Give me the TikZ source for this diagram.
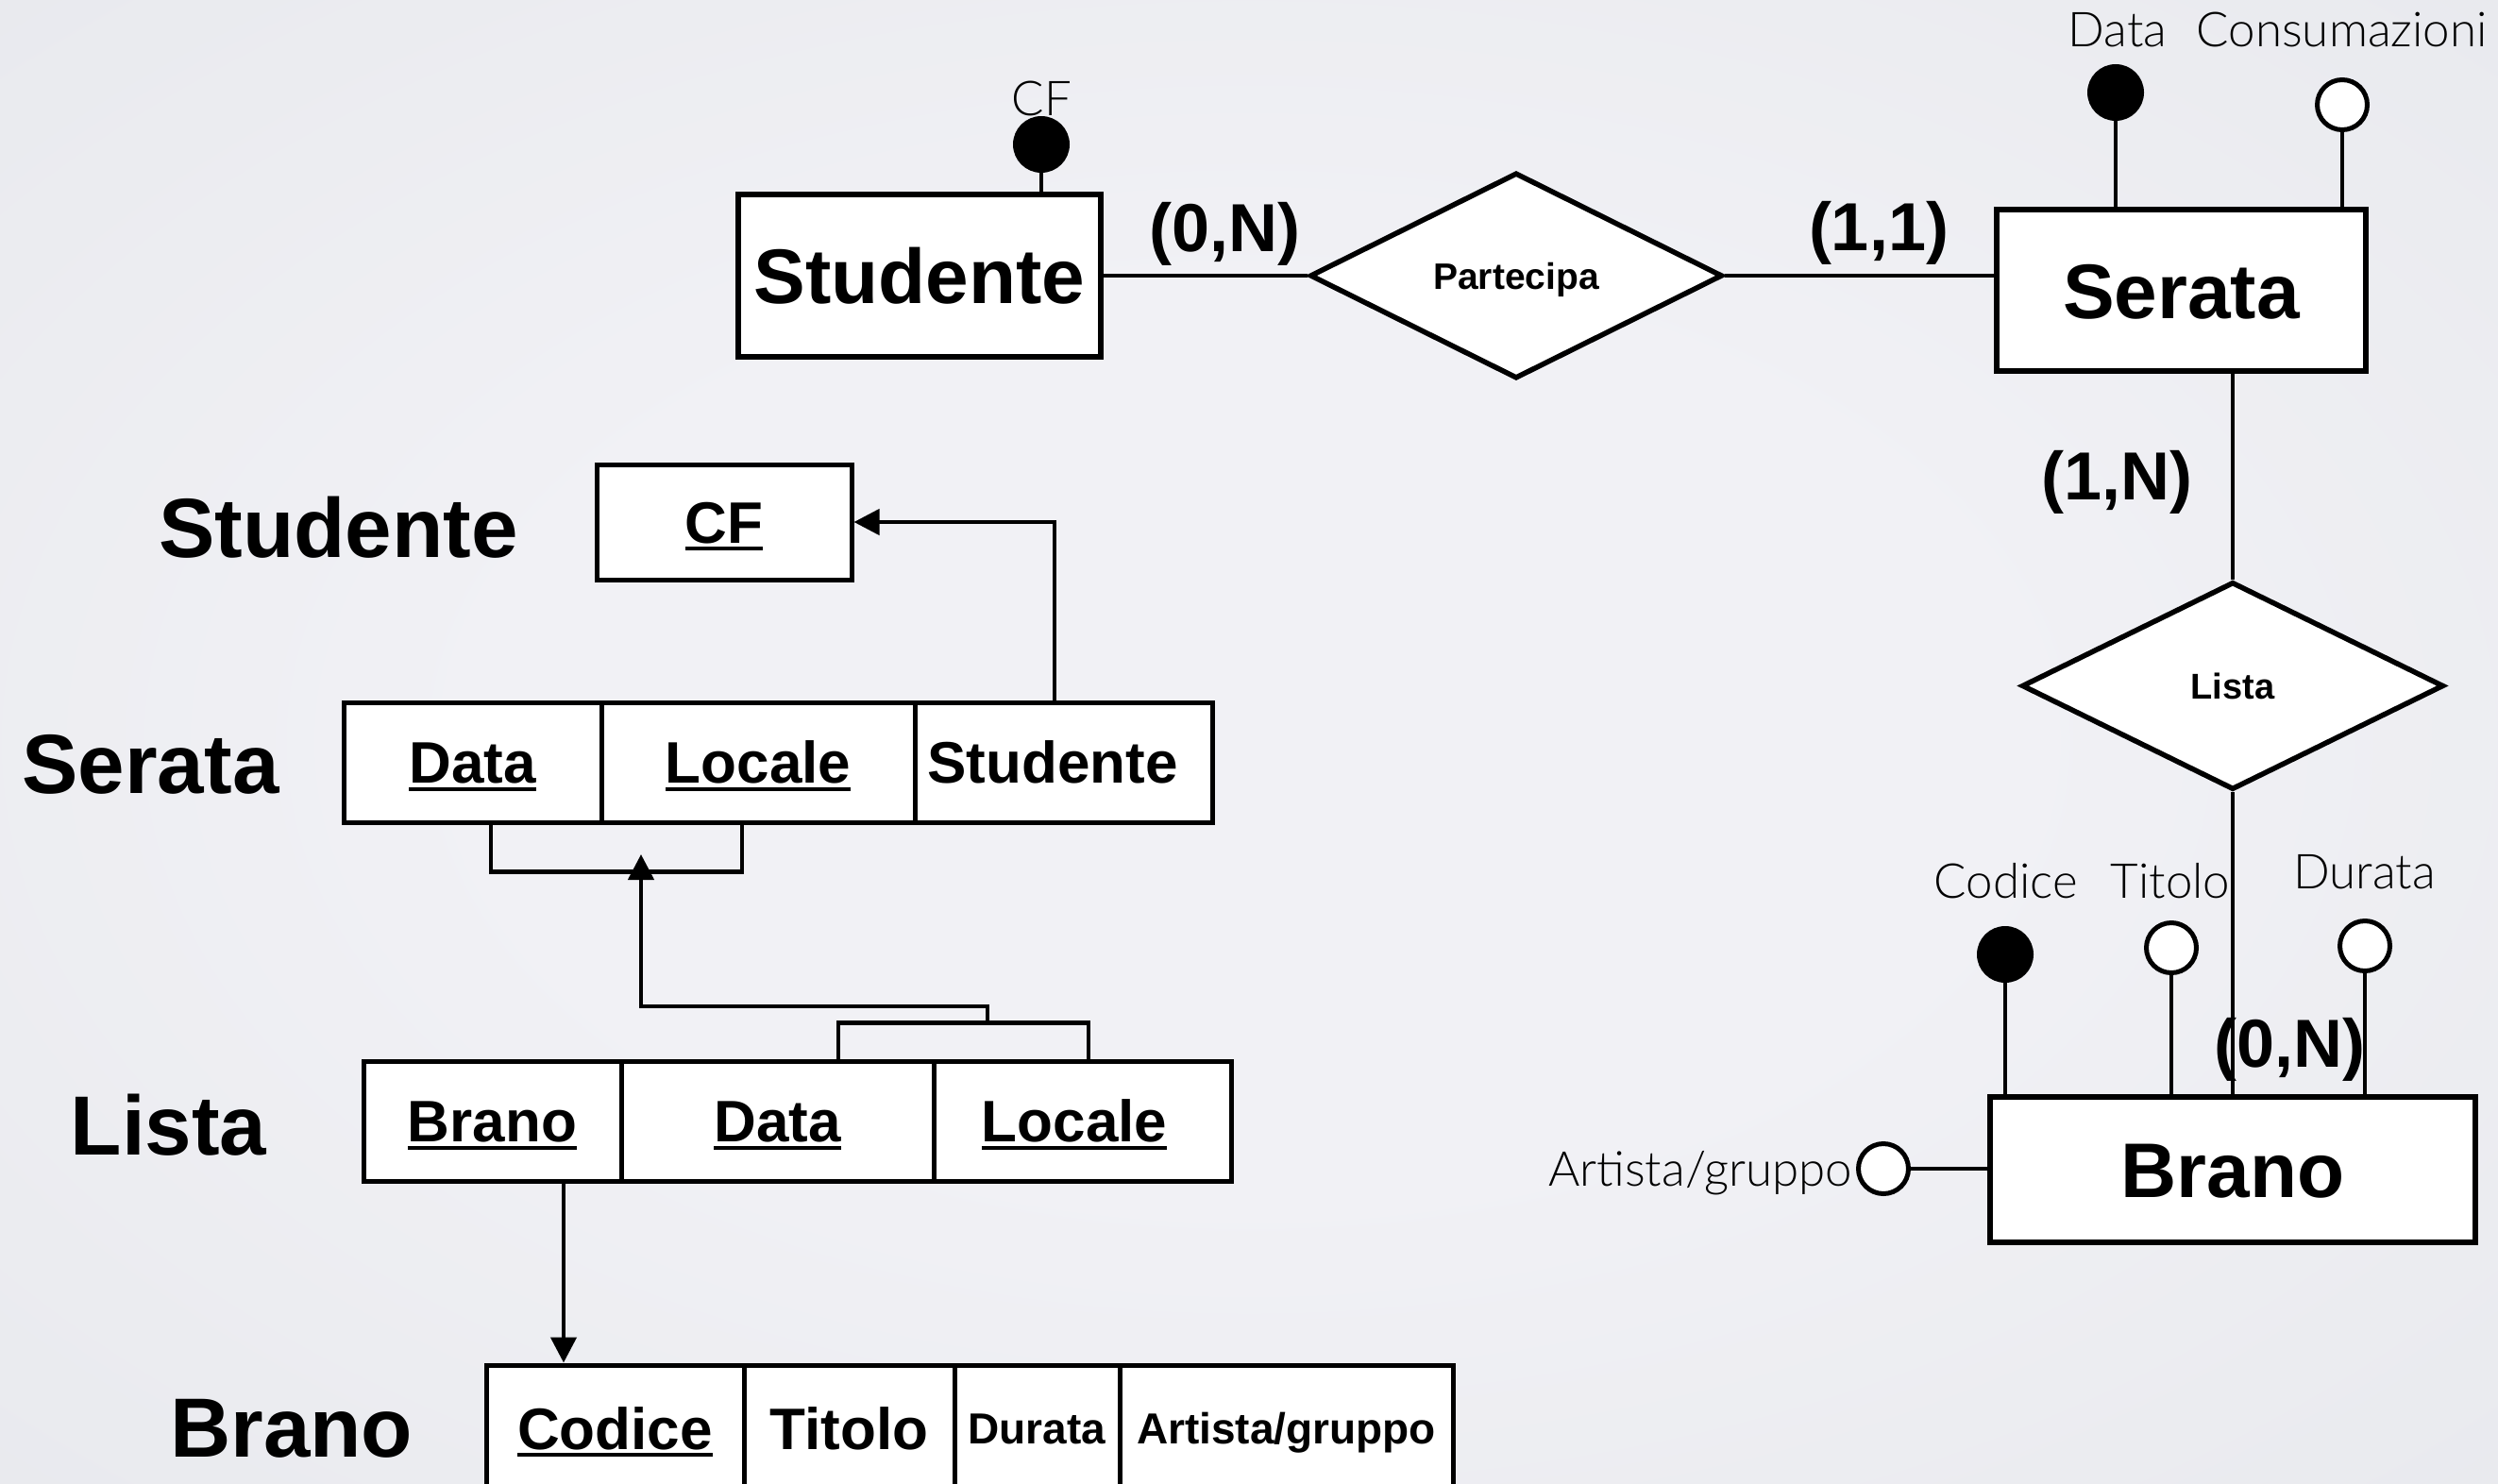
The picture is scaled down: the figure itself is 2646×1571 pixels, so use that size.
\documentclass[tikz,border=0pt]{standalone}
\usepackage{fontspec}
\setmainfont{Liberation Sans}
\newfontfamily\thinfont{Lato Light}
\usetikzlibrary{shapes.geometric,arrows.meta}

% font size helper and a thick underline for key attributes
\newcommand\fsz[1]{\fontsize{#1}{#1}\selectfont}
\newcommand\ulk[1]{\setbox0=\hbox{#1}\rlap{\rule[-0.13em]{\wd0}{0.065em}}\box0}

\definecolor{bgin}{RGB}{241,241,245}
\definecolor{bgout}{RGB}{218,221,226}
\pgfdeclareradialshading{bgshade}{\pgfpoint{0bp}{0bp}}{color(0bp)=(bgin); color(15bp)=(bgin); color(72bp)=(bgout)}

\tikzset{
  ln/.style={line width=4.5pt, line cap=butt},
  arr/.style={ln, -{Triangle[length=27pt,width=27pt]}},
  ent/.style={draw, rectangle, line width=5.5pt, fill=white, inner sep=0pt,
    text height=59pt, text depth=0pt, font=\fsz{82}\bfseries},
  rel/.style={draw, diamond, aspect=2, line width=5.5pt, fill=white, inner sep=0pt,
    text height=28pt, text depth=0pt, font=\fsz{39}\bfseries},
  idattr/.style={circle, draw, fill=black, line width=3pt, minimum size=57pt, inner sep=0pt},
  optattr/.style={circle, draw, fill=white, line width=5pt, minimum size=53pt, inner sep=0pt},
  lbl/.style={inner sep=0pt, anchor=base, font=\fsz{51}\thinfont},
  card/.style={inner sep=0pt, anchor=base, font=\fsz{72}\bfseries},
  tname/.style={inner sep=0pt, anchor=base, font=\fsz{89}\bfseries},
  cell/.style={draw, rectangle, line width=5pt, fill=white, inner sep=0pt,
    minimum height=127pt, text height=44.6pt, text depth=0pt, font=\fsz{62}\bfseries},
  smallcell/.style={cell, text height=33pt, font=\fsz{46}\bfseries},
}

\begin{document}
\begin{tikzpicture}[x=1pt, y=-1pt]
\useasboundingbox (0,0) rectangle (2646,1571);
\clip (0,0) rectangle (2646,1571);
\shade[shading=bgshade] (0,0) rectangle (2646,1571);

% ---------------- E-R schema ----------------
\node[ent, minimum width=384pt, minimum height=172pt] (st) at (974,292) {Studente};
\node[rel, minimum width=437pt, minimum height=218pt] (part) at (1606,292) {Partecipa};
\node[ent, minimum width=391pt, minimum height=171pt] (se) at (2310.5,307.5) {Serata};
\node[rel, minimum width=447pt, minimum height=220pt, font=\fsz{38}\bfseries] (lista) at (2365,726.5) {Lista};
\node[ent, minimum width=514pt, minimum height=154pt] (br) at (2365,1239) {Brano};

\draw[ln] (st.east) -- (part.west);
\draw[ln] (part.east) -- (part.east -| se.west);
\draw[ln] (se.south -| lista.north) -- (lista.north);
\draw[ln] (lista.south) -- (br.north);

% attributes of Studente
\node[idattr] (cfc) at (1103,153) {};
\draw[ln] (cfc.south) -- (cfc.south |- st.north);
\node[lbl] (cfl) at (1103.5,122) {CF};

% attributes of Serata
\node[idattr] (sdat) at (2241,98) {};
\node[optattr] (scon) at (2481,111) {};
\draw[ln] (sdat.south) -- (sdat.south |- se.north);
\draw[ln] (scon.south) -- (scon.south |- se.north);
\node[lbl] (sdatl) at (2243,50) {Data};
\node[lbl] (sconl) at (2480.6,50) {Consumazioni};

% attributes of Brano
\node[idattr] (bcod) at (2124,1011) {};
\node[optattr] (btit) at (2300,1004) {};
\node[optattr] (bdur) at (2505,1002) {};
\node[optattr] (bart) at (1995,1238) {};
\draw[ln] (bcod.south) -- (bcod.south |- br.north);
\draw[ln] (btit.south) -- (btit.south |- br.north);
\draw[ln] (bdur.south) -- (bdur.south |- br.north);
\draw[ln] (bart.east) -- (bart.east -| br.west);
\node[lbl] (bcodl) at (2124.6,951) {Codice};
\node[lbl] (btitl) at (2299,951) {Titolo};
\node[lbl] (bdurl) at (2504.6,941) {Durata};
\node[lbl, anchor=base east] (bartl) at (1962,1256) {Artista/gruppo};

% cardinalities
\node[card] (c1) at (1297.5,266) {(0,N)};
\node[card] (c2) at (1990,265) {(1,1)};
\node[card] (c3) at (2242,529) {(1,N)};
\node[card] (c4) at (2425,1130) {(0,N)};

% ---------------- relational schema ----------------
\node[tname] (nst) at (358.6,590) {Studente};
\node[tname] (nse) at (159.5,840) {Serata};
\node[tname] (nli) at (178.5,1223) {Lista};
\node[tname] (nbr) at (308.7,1543) {Brano};

% Studente
\node[cell, minimum width=270pt, minimum height=122pt] (rcf) at (767,553) {\ulk{CF}};

% Serata
\node[cell, minimum width=273pt] (rsd) at (500.5,807.5) {\ulk{Data}};
\node[cell, minimum width=332pt] (rsl) at (803,807.5) {\ulk{Locale}};
\node[cell, minimum width=315pt] (rss) at (1126.5,807.5) {\kern-23pt Studente};

% Lista
\node[cell, minimum width=273pt] (rlb) at (521.5,1187.5) {\ulk{Brano}};
\node[cell, minimum width=331pt] (rld) at (823.5,1187.5) {\ulk{Data}};
\node[cell, minimum width=315pt] (rll) at (1146.5,1187.5) {\kern-17pt\ulk{Locale}};

% Brano
\node[cell, minimum width=273pt, minimum height=134pt] (rbc) at (651.5,1513) {\ulk{Codice}};
\node[cell, minimum width=223pt, minimum height=134pt] (rbt) at (899.5,1513) {Titolo};
\node[smallcell, minimum width=175pt, minimum height=134pt] (rbd) at (1098.5,1513) {Durata};
\node[smallcell, minimum width=353pt, minimum height=134pt] (rba) at (1362.5,1513) {Artista/gruppo};

% foreign keys
\draw[arr] ([xshift=-9.5pt]rss.north) |- (rcf.east);

\draw[ln] ([xshift=19.5pt]rsd.south) -- ++(0,50) -| ([xshift=-17pt]rsl.south);
\coordinate (sbrk) at (679,923);
\draw[ln] ([xshift=64.5pt]rld.north) -- ++(0,-38) -| ([xshift=6.5pt]rll.north);
\coordinate (lbrk) at (1046,1084);
\draw[arr] (lbrk) -- ++(0,-18) -| ([yshift=18pt]sbrk);

\draw[arr] ([xshift=75.5pt]rlb.south) -- ([xshift=75.5pt]rlb.south |- rbc.north);
\end{tikzpicture}
\end{document}
